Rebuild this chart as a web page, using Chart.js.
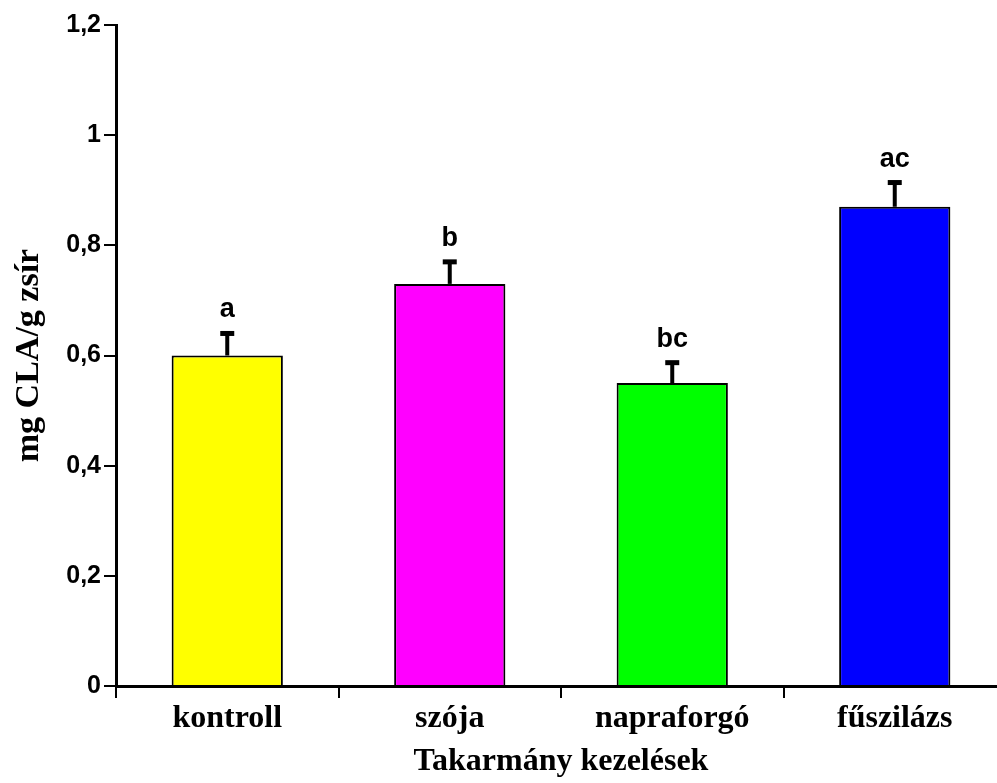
<!DOCTYPE html>
<html>
<head>
<meta charset="utf-8">
<script src="https://cdn.jsdelivr.net/npm/chart.js@4/dist/chart.umd.min.js"></script>
<style>
    html, body { margin: 0; padding: 0; background: #fff; overflow: hidden; }
    #wrap { width: 997px; height: 783px; overflow: hidden; }
</style>
</head>
<body>
<div id="wrap"><canvas id="claChart" width="1008" height="783"></canvas></div>
<script>
const categories = ['kontroll', 'szója', 'napraforgó', 'fűszilázs'];
const claValues = [0.60, 0.73, 0.55, 0.87];
const claErrors = [0.04, 0.04, 0.037, 0.044];
const groupLetters = ['a', 'b', 'bc', 'ac'];
const barColors = ['#ffff00', '#ff00ff', '#00ff00', '#0000ff'];
const yTickLabels = ['0', '0,2', '0,4', '0,6', '0,8', '1', '1,2'];

// hibasávok (T) és betűjelek az oszlopok fölött
const errorBarPlugin = {
    id: 'errorBars',
    afterDatasetsDraw(chart) {
        const ctx = chart.ctx;
        const yScale = chart.scales.y;
        const meta = chart.getDatasetMeta(0);
        ctx.save();
        meta.data.forEach((bar, i) => {
            const x = bar.x;
            const top = bar.y;
            const capY = yScale.getPixelForValue(claValues[i] + claErrors[i]);
            ctx.strokeStyle = '#000';
            ctx.lineWidth = 4;
            ctx.beginPath();
            ctx.moveTo(x, top);
            ctx.lineTo(x, capY);
            ctx.stroke();
            ctx.lineWidth = 5;
            ctx.beginPath();
            ctx.moveTo(x - 7, capY);
            ctx.lineTo(x + 7, capY);
            ctx.stroke();

            ctx.fillStyle = '#000';
            ctx.font = 'bold 27px "Liberation Sans", Arial, sans-serif';
            ctx.textAlign = 'center';
            ctx.textBaseline = 'alphabetic';
            ctx.fillText(groupLetters[i], x, capY - 16);
        });
        ctx.restore();
    }
};

new Chart(document.getElementById('claChart'), {
    type: 'bar',
    data: {
        labels: categories,
        datasets: [{
            data: claValues,
            backgroundColor: barColors,
            borderColor: '#000',
            borderWidth: 2,
            categoryPercentage: 1,
            barPercentage: 0.5
        }]
    },
    options: {
        responsive: false,
        animation: false,
        layout: {
            padding: { left: 0, top: 25, right: 2, bottom: 0 }
        },
        plugins: {
            legend: { display: false },
            tooltip: { enabled: false }
        },
        scales: {
            x: {
                offset: true,
                border: { color: '#000', width: 3 },
                grid: {
                    offset: true,
                    drawOnChartArea: false,
                    color: '#000',
                    lineWidth: 2,
                    tickLength: 12
                },
                ticks: {
                    color: '#000',
                    padding: 2,
                    font: { family: '"Liberation Serif", "Times New Roman", serif', weight: 'bold', size: 32 }
                },
                title: {
                    display: true,
                    text: 'Takarmány kezelések',
                    color: '#000',
                    padding: { top: 0, bottom: 2 },
                    font: { family: '"Liberation Serif", "Times New Roman", serif', weight: 'bold', size: 32 }
                },
                afterFit(scale) { scale.height = 97; }
            },
            y: {
                min: 0,
                max: 1.2,
                border: { color: '#000', width: 3 },
                grid: {
                    drawOnChartArea: false,
                    color: '#000',
                    lineWidth: 2,
                    tickLength: 12
                },
                ticks: {
                    stepSize: 0.2,
                    color: '#000',
                    padding: 3,
                    font: { family: '"Liberation Sans", Arial, sans-serif', weight: 'bold', size: 25 },
                    callback: (value, index) => yTickLabels[index]
                },
                title: {
                    display: true,
                    text: 'mg CLA/g zsír',
                    color: '#000',
                    padding: { top: 9, bottom: 0 },
                    font: { family: '"Liberation Serif", "Times New Roman", serif', weight: 'bold', size: 34 }
                },
                afterFit(scale) { scale.width = 116; }
            }
        }
    },
    plugins: [errorBarPlugin]
});
</script>
</body>
</html>
